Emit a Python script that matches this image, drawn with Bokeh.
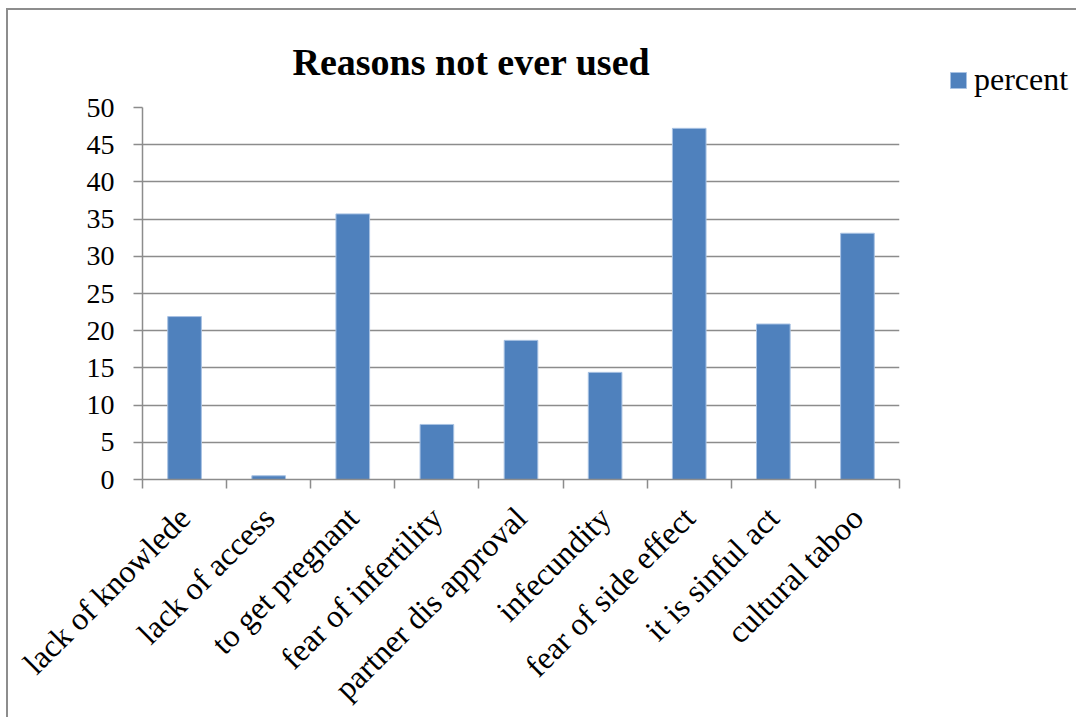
import math
from bokeh.plotting import figure
from bokeh.models import (ColumnDataSource, Range1d, FixedTicker, Legend, LegendItem)
from bokeh.embed import file_html
from bokeh.resources import INLINE

# ---- data ----
categories = ["lack of knowlede", "lack of access", "to get pregnant", "fear of infertility",
              "partner dis approval", "infecundity", "fear of side effect", "it is sinful act",
              "cultural taboo"]
percent = [21.9, 0.5, 35.7, 7.4, 18.7, 14.4, 47.2, 20.9, 33.1]
y_ticks = [0, 5, 10, 15, 20, 25, 30, 35, 40, 45, 50]
title_text = "Reasons not ever used"
series_name = "percent"

n = len(categories)
centers = [i + 0.5 for i in range(n)]
boundaries = list(range(n + 1))

source = ColumnDataSource(dict(x=centers, top=percent, cat=categories))

FONT = "Liberation Serif"
GRID = "#8c8c8c"
BAR = "#4F81BD"

p = figure(frame_width=757, frame_height=372,
           min_border_left=134, min_border_top=97, min_border_right=177, min_border_bottom=238,
           x_range=Range1d(0, n), y_range=Range1d(0, 50),
           output_backend="svg", toolbar_location=None,
           margin=(8, 0, 0, 6),
           styles={"border-left": "2px solid #8d8d8d", "border-top": "2px solid #8d8d8d",
                   "border-right": "none", "border-bottom": "none"})
p.outline_line_color = None
p.background_fill_color = "white"
p.border_fill_color = "white"

r = p.vbar(x="x", top="top", width=0.4, source=source, fill_color=BAR,
           line_color="#a8c2e3", line_width=1)

# title
p.title.text = title_text
p.title.text_font = FONT
p.title.text_font_size = "38px"
p.title.text_font_style = "bold"
p.title.text_color = "black"
p.title.align = "left"
p.title.offset = 150
p.title.standoff = 49

# y axis
p.yaxis.ticker = FixedTicker(ticks=y_ticks)
p.yaxis.axis_line_color = GRID
p.yaxis.axis_line_width = 1.5
p.yaxis.major_tick_line_color = GRID
p.yaxis.major_tick_line_width = 1.5
p.yaxis.major_tick_out = 9
p.yaxis.major_tick_in = 0
p.yaxis.minor_tick_line_color = None
p.yaxis.major_label_text_font = FONT
p.yaxis.major_label_text_font_size = "28px"
p.yaxis.major_label_text_color = "black"
p.yaxis.major_label_standoff = 19

# x axis
p.xaxis.ticker = FixedTicker(ticks=centers, minor_ticks=boundaries)
p.xaxis.major_label_overrides = {c: name for c, name in zip(centers, categories)}
p.xaxis.axis_line_color = GRID
p.xaxis.axis_line_width = 1.5
p.xaxis.major_tick_line_color = None
p.xaxis.major_tick_out = 0
p.xaxis.major_tick_in = 0
p.xaxis.minor_tick_line_color = GRID
p.xaxis.minor_tick_line_width = 1.5
p.xaxis.minor_tick_out = 9
p.xaxis.minor_tick_in = 0
p.xaxis.major_label_orientation = math.pi / 4
p.xaxis.major_label_text_font = FONT
p.xaxis.major_label_text_font_size = "32px"
p.xaxis.major_label_text_color = "black"
p.xaxis.major_label_standoff = 24

p.xgrid.grid_line_color = None
p.ygrid.ticker = FixedTicker(ticks=y_ticks)
p.ygrid.grid_line_color = GRID
p.ygrid.grid_line_width = 1.5

legend = Legend(items=[LegendItem(label=series_name, renderers=[r])],
                location=(49, 381), padding=0, margin=0, spacing=0,
                glyph_width=20, glyph_height=20, label_standoff=6,
                label_text_font=FONT, label_text_font_size="32px", label_text_color="black",
                border_line_color=None, background_fill_alpha=0)
p.add_layout(legend, "right")

open("out.html", "w").write(file_html(p, INLINE))
